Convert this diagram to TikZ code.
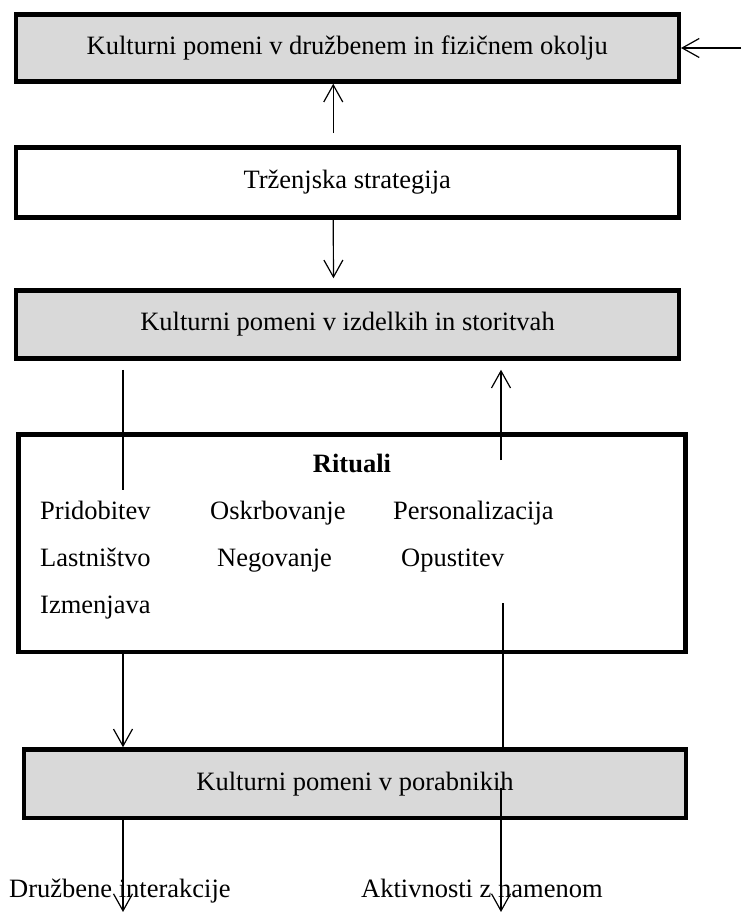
\documentclass[tikz,border=0pt]{standalone}
\usepackage{fontspec}
\setmainfont{Liberation Serif}
\usetikzlibrary{arrows.meta}
\definecolor{boxgray}{RGB}{217,217,217}
\newcommand{\bigtxt}{\fontsize{26.5}{32}\selectfont}
\tikzset{block/.style = {draw, fill=boxgray, line width=4.5pt, rectangle, minimum height=68pt, minimum width=663pt, font=\bigtxt},
         wblock/.style = {block, fill=white},
         item/.style = {inner sep=0pt, anchor=base west, font=\bigtxt},
         conn/.style = {line width=1.2pt}}

\begin{document}
\begin{tikzpicture}[x=1pt,y=-1pt,>={Straight Barb[length=17pt,width=19pt]}]
        \useasboundingbox (0,0) rectangle (741,912);

        \node[block,minimum height=67pt](k1)at(347.25,48){Kulturni pomeni v družbenem in fizičnem okolju};
        \node[wblock,minimum height=70pt](k2)at(347.25,182.5){Trženjska strategija};
        \node[block](k3)at(347.5,324.5){Kulturni pomeni v izdelkih in storitvah};
        \node[wblock,minimum width=667pt,minimum height=217.5pt](rit)at(352,543.25){};
        \node[block,minimum width=662pt,minimum height=68.5pt](k4)at(355,783.75){Kulturni pomeni v porabnikih};

        \node[item,anchor=base](rtitle)at(352,472){\textbf{Rituali}};
        \node[item](pri)at(40,519){Pridobitev};
        \node[item](osk)at(210,519){Oskrbovanje};
        \node[item](per)at(393,519){Personalizacija};
        \node[item](las)at(40,566){Lastništvo};
        \node[item](neg)at(217,566){Negovanje};
        \node[item](opu)at(401,566){Opustitev};
        \node[item](izm)at(40,613){Izmenjava};

        \node[item](dru)at(9,897){Družbene interakcije};
        \node[item](akt)at(361,897){Aktivnosti z namenom};

        \coordinate(src)at(741,48);
        \coordinate(ritin)at(123,490);
        \coordinate(ritout)at(501,460);
        \coordinate(opuout)at(503,603);
        \coordinate(k4out)at(501,788);
        \coordinate(endl)at(123,912);
        \coordinate(endr)at(501,912);

        \draw[conn,->](src)--(k1.east);
        \draw[conn,->,shorten <=12pt]([xshift=-14pt]k2.north)--([xshift=-14pt]k1.south);
        \draw[conn,->,shorten >=10pt]([xshift=-14pt]k2.south)--([xshift=-14pt]k3.north);
        \draw[conn,shorten <=9pt](k3.south -| ritin)--(ritin);
        \draw[conn,->,shorten >=9pt](ritout)--(ritout |- k3.south);
        \draw[conn,->](rit.south -| ritin)--(k4.north -| ritin);
        \draw[conn](opuout)--(opuout |- k4.north);
        \draw[conn,->](k4out)--(endr);
        \draw[conn,->](k4.south -| endl)--(endl);
    \end{tikzpicture}
\end{document}
